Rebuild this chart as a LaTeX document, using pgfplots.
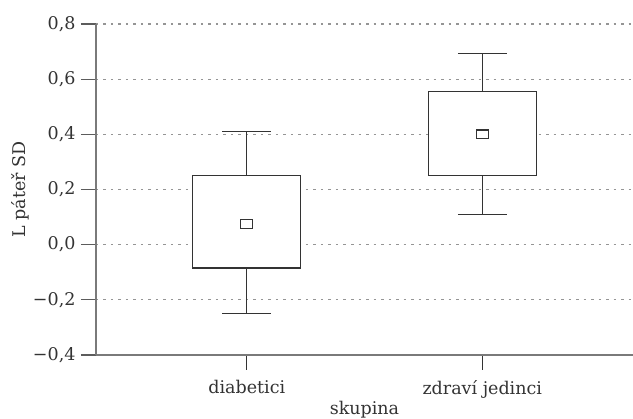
\documentclass[border=0pt]{standalone}
\usepackage{fontspec}
\setmainfont{DejaVu Serif}
\usepackage{pgfplots}
\pgfplotsset{compat=1.18}
\usepgfplotslibrary{statistics}
\definecolor{axgray}{HTML}{7A7A7A}
\definecolor{boxc}{HTML}{333333}
\newcommand{\lblfont}{\fontsize{17.5pt}{20pt}\selectfont}
\begin{document}
\begin{tikzpicture}
\begin{axis}[
  name=ax,
  at={(0,0)}, anchor=south west,
  scale only axis,
  width=537pt, height=331pt,
  xmin=-0.64, xmax=1.64,
  ymin=-0.4, ymax=0.8,
  axis lines=left,
  axis line style={-, draw=axgray, line width=1.3pt},
  xtick={0,1},
  xticklabels={diabetici, zdraví jedinci},
  ytick={-0.4,-0.2,0,0.2,0.4,0.6,0.8},
  yticklabels={{−0,4},{−0,2},{0,0},{0,2},{0,4},{0,6},{0,8}},
  tick align=outside,
  major tick length=15pt,
  x tick style={draw=boxc, line width=1.1pt},
  y tick style={draw=boxc!80, line width=1.1pt},
  ymajorgrids,
  major grid style={draw=axgray!80, dash pattern=on 2.5pt off 5pt, line width=1.1pt},
  tick label style={font=\lblfont, text=boxc},
  label style={font=\lblfont, text=boxc},
  xlabel={skupina},
  ylabel={L páteř SD},
  xticklabel style={yshift=-7pt},
  xlabel style={yshift=4pt},
  ylabel shift=-3pt,
  yticklabel style={xshift=-2pt},
  boxplot/draw direction=y,
  boxplot/draw/median/.code={},
  clip=false,
]
\addplot[boxplot prepared={draw position=0, lower whisker=-0.25, lower quartile=-0.085, median=0.075, upper quartile=0.25, upper whisker=0.41, box extend=0.458, whisker extend=0.208}, draw=boxc, fill=white, line width=1.3pt, solid] coordinates {};
\addplot[boxplot prepared={draw position=1, lower whisker=0.11, lower quartile=0.251, median=0.40, upper quartile=0.554, upper whisker=0.692, box extend=0.458, whisker extend=0.208}, draw=boxc, fill=white, line width=1.3pt, solid] coordinates {};
\addplot[only marks, mark=square*, mark size=4.3pt, mark options={draw=boxc, fill=white, line width=1.3pt, xscale=1.4}] coordinates {(0,0.075) (1,0.40)};
\end{axis}
\pgfresetboundingbox
\path ([xshift=-96pt,yshift=-64pt]ax.south west) rectangle ([yshift=24pt]ax.north east);
\end{tikzpicture}
\end{document}
